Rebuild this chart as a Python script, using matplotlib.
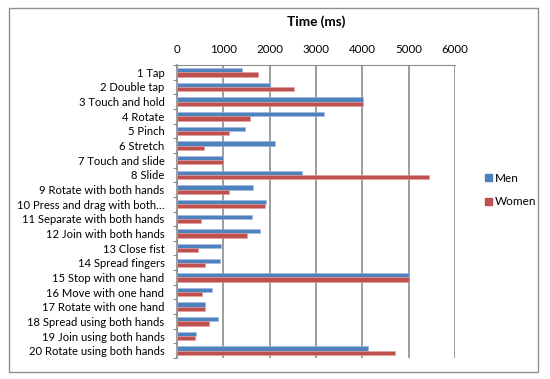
#!/usr/bin/env python3
"""Gesture completion time by gender, horizontal bar chart."""

import matplotlib

matplotlib.use("Agg")
import matplotlib.pyplot as plt
from matplotlib.patches import Patch, Rectangle
import numpy as np

GESTURES = ["1 Tap", "2 Double tap", "3 Touch and hold", "4 Rotate", "5 Pinch", "6 Stretch",
            "7 Touch and slide", "8 Slide", "9 Rotate with both hands",
            "10 Press and drag with both\u2026", "11 Separate with both hands",
            "12 Join with both hands", "13 Close fist", "14 Spread fingers",
            "15 Stop with one hand", "16 Move with one hand", "17 Rotate with one hand",
            "18 Spread using both hands", "19 Join using both hands", "20 Rotate using both hands"]
MEN = [1396, 2014, 4010, 3165, 1460, 2122, 1000, 2691, 1633, 1914,
       1626, 1784, 957, 928, 5000, 763, 604, 892, 403, 4115]
WOMEN = [1741, 2518, 4010, 1568, 1115, 583, 1000, 5432, 1122, 1906,
         511, 1518, 460, 604, 5000, 532, 611, 683, 381, 4712]
XTICKS = [0, 1000, 2000, 3000, 4000, 5000, 6000]

BLUE = "#4F81BD"
RED = "#C0504D"
GRID = "#8C8C8C"
W, H = 550, 379

plt.rcParams["font.family"] = ["Lato", "DejaVu Sans"]

fig = plt.figure(figsize=(W / 100, H / 100), dpi=100)
ax = fig.add_axes([177 / W, 1 - 358 / H, (455 - 177) / W, (358 - 65) / H])

# outer chart border
fig.patches.append(Rectangle((9 / W, 1 - 372 / H), (538 - 9) / W, (372 - 8) / H,
                             transform=fig.transFigure, fill=False, edgecolor="#8F8F8F", lw=1.0))

y = np.arange(len(GESTURES))
h = 0.29
ax.barh(y - h / 2, MEN, height=h, color=BLUE, edgecolor="#9DB9DD", lw=0.4, zorder=3)
ax.barh(y + h / 2, WOMEN, height=h, color=RED, edgecolor="#E0A09E", lw=0.4, zorder=3)

ax.set_xlim(0, 6000)
ax.set_ylim(len(GESTURES) - 0.5, -0.5)
ax.xaxis.tick_top()
ax.set_xticks(XTICKS)
ax.tick_params(axis="x", length=0, pad=7, labelsize=8.3)
ax.set_yticks(y)
ax.set_yticklabels(GESTURES)
ax.tick_params(axis="y", which="major", length=0, pad=9, labelsize=8.1)
ax.set_yticks(np.arange(len(GESTURES) + 1) - 0.5, minor=True)
ax.tick_params(axis="y", which="minor", length=3, color=GRID, width=0.8)
ax.grid(axis="x", color=GRID, lw=1.2, zorder=0)
for side in ["right", "bottom"]:
    ax.spines[side].set_visible(False)
ax.spines["left"].set_color(GRID)
ax.spines["left"].set_linewidth(1.2)
ax.spines["top"].set_color(GRID)
ax.spines["top"].set_linewidth(0.8)

fig.text(316 / W, 1 - 22 / H, "Time (ms)", ha="center", va="center", fontsize=9.8, fontweight="bold")

handles = [Patch(color=BLUE, label="Men"), Patch(color=RED, label="Women")]
fig.legend(handles=handles, loc="center left", bbox_to_anchor=(474 / W, 1 - 190 / H),
           frameon=False, fontsize=8.5, handlelength=0.6, handleheight=0.6,
           handletextpad=0.3, labelspacing=1.1)

fig.savefig("out.png", dpi=100)
